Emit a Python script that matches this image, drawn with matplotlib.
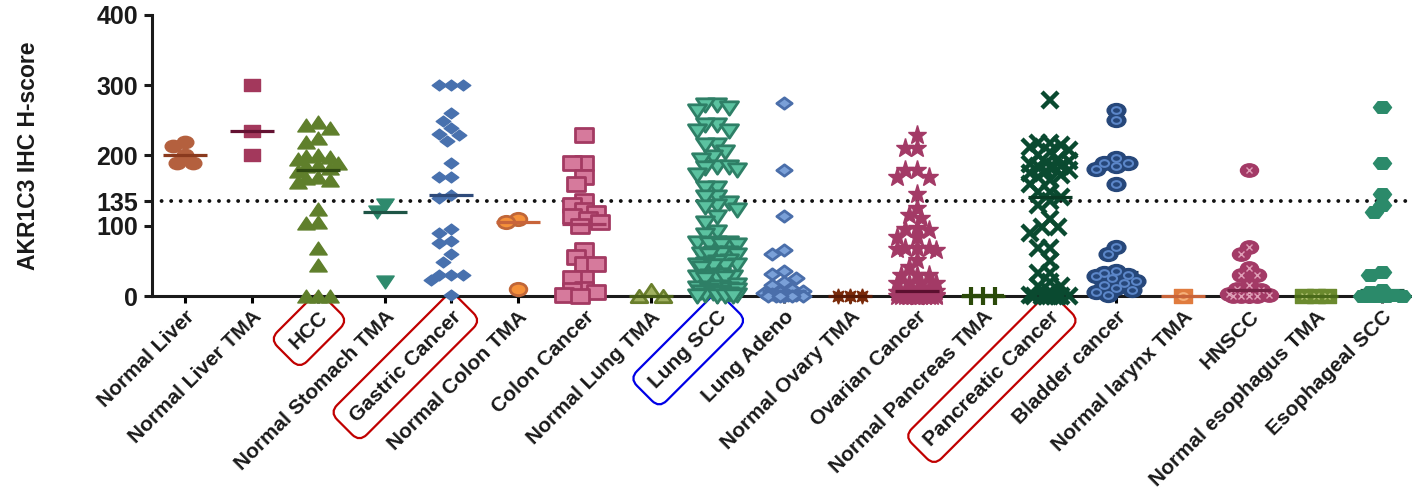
import numpy as np
import matplotlib
matplotlib.use("Agg")
import matplotlib.pyplot as plt
from matplotlib.markers import MarkerStyle
from matplotlib.transforms import Affine2D

plt.rcParams['font.family'] = ['Liberation Sans', 'DejaVu Sans']
plt.rcParams['font.weight'] = 'bold'

categories = ["Normal Liver", "Normal Liver TMA", "HCC", "Normal Stomach TMA", "Gastric Cancer",
              "Normal Colon TMA", "Colon Cancer", "Normal Lung TMA", "Lung SCC", "Lung Adeno",
              "Normal Ovary TMA", "Ovarian Cancer", "Normal Pancreas TMA", "Pancreatic Cancer",
              "Bladder cancer", "Normal larynx TMA", "HNSCC", "Normal esophagus TMA", "Esophageal SCC"]

# H-scores
normal_liver = [219, 214, 200, 190, 190]
normal_liver_tma = [300, 235, 200]
hcc = [248, 243, 239, 225, 219, 200, 199, 198, 195, 190, 187, 185, 182, 178, 170, 168, 165, 162,
       124, 105, 104, 68, 44, 0, 0, 0]
normal_stomach_tma = [130, 120, 20]
gastric = [300, 300, 300, 260, 249, 239, 231, 229, 220, 189, 170, 170, 144, 140, 95, 89, 78, 75,
           60, 49, 30, 30, 30, 23, 2]
normal_colon_tma = [110, 105, 10]
colon = [229, 190, 190, 170, 160, 135, 130, 122, 118, 114, 110, 105, 100, 65, 55, 45, 45, 26, 26,
         10, 8, 5, 2, 0]
normal_lung_tma = [8, 0, 0]
lung_scc = [272, 272, 267, 263, 243, 243, 235, 235, 215, 215, 205, 198, 194, 184, 184, 182, 180, 172,
            154, 154, 141, 141, 132, 128, 126, 122, 112, 104, 91, 87, 75, 75, 75, 74, 73, 72,
            61, 61, 60, 60, 59, 58, 50, 48, 45, 44, 44, 43, 42, 40, 30, 28, 27, 27, 26, 25, 24,
            15, 13, 12, 10, 9, 8, 6, 5, 4, 3, 2, 1, 0, 0, 0, 0]
lung_adeno = [275, 179, 114, 65, 60, 35, 32, 26, 20, 15, 10, 7, 5, 4, 3, 2, 1, 0, 0, 0, 0, 0, 0]
normal_ovary_tma = [0, 0, 0]
ovarian = [229, 211, 211, 179, 179, 170, 170, 145, 125, 115, 111, 97, 95, 94, 84, 84, 68, 68, 68, 67,
           66, 51, 41, 30, 30, 30, 18, 18, 18, 18, 12, 10, 8, 7, 6, 5, 5, 4, 3, 3, 2, 2, 1, 1,
           0, 0, 0, 0, 0, 0, 0, 0, 0, 0, 0, 0, 0, 0, 0, 0, 0, 0, 0, 0, 0, 0]
normal_pancreas_tma = [0, 0, 0]
pancreatic = [279, 218, 218, 215, 212, 208, 205, 200, 195, 192, 190, 188, 185, 185, 183, 180, 178,
              175, 172, 170, 165, 160, 148, 148, 141, 135, 130, 109, 98, 98, 89, 69, 69, 50, 33, 33,
              20, 14, 14, 5, 2, 0, 0, 0, 0, 0, 0, 0, 0]
bladder = [265, 250, 196, 190, 190, 185, 181, 160, 70, 60, 35, 33, 30, 28, 26, 22, 19, 15, 12, 8, 5, 2]
normal_larynx_tma = [0]
hnscc = [179, 70, 60, 40, 30, 30, 16, 10, 8, 5, 3, 2, 0, 0, 0, 0]
normal_esophagus_tma = [0, 0, 0]
esophageal_scc = [269, 190, 145, 130, 120, 34, 30, 8, 5, 2, 0, 0, 0, 0, 0]

groups = [normal_liver, normal_liver_tma, hcc, normal_stomach_tma, gastric, normal_colon_tma, colon,
          normal_lung_tma, lung_scc, lung_adeno, normal_ovary_tma, ovarian, normal_pancreas_tma,
          pancreatic, bladder, normal_larynx_tma, hnscc, normal_esophagus_tma, esophageal_scc]


def wide(m, sx=1.35):
    ms = MarkerStyle(m)
    p = ms.get_path().transformed(ms.get_transform())
    return MarkerStyle(p.transformed(Affine2D().scale(sx, 1)))


# marker, size, face, edge, edge width, median colour, inner decoration
styles = [
    (wide('o'), 12, '#b4603e', '#b4603e', 1, '#8a3a1e', None),
    (wide('s'), 12, '#a3385c', '#a3385c', 1, '#641232', None),
    (wide('^'), 12.5, '#5f7f2b', '#5f7f2b', 1, '#2f4a12', None),
    (wide('v'), 12.5, '#2e8a6d', '#2e8a6d', 1, '#1e5546', None),
    (wide('D'), 10.5, '#4871ae', '#4871ae', 1, '#2e4a7a', None),
    (wide('o'), 12, '#f5913a', '#c06638', 2, '#c8643a', None),
    (wide('s'), 13, '#d67a9c', '#a33a62', 2, '#a33a62', None),
    (wide('^'), 12, '#a0b060', '#6a7f2c', 2, '#4a5f1a', None),
    (wide('v'), 13, '#5bc2a0', '#2e7f66', 2, '#1e5546', None),
    (wide('D'), 11, '#7aa0d8', '#4a6eaa', 2, '#4a6eaa', None),
    ((8, 1, 0), 11, '#7a2a0a', '#7a2a0a', 1, '#5a1a05', None),
    ('*', 14, '#a33a66', '#a33a66', 1, '#5c1030', None),
    ('+', 13, '#2b4a0a', '#2b4a0a', 3, '#2b4a0a', None),
    ('x', 11.5, '#0a4a30', '#0a4a30', 3.2, '#0a3a25', None),
    (wide('o'), 13.5, '#26477a', '#26477a', 1, '#1a3358', (wide('o'), 6.5, '#5b86c8')),
    (wide('s'), 13, '#e07b3e', '#e07b3e', 1, '#c8643a', (wide('o'), 6.5, '#f5b07a')),
    (wide('o'), 13, '#a33a66', '#a33a66', 1, '#7a2448', ('x', 5, '#e0a0b8')),
    (wide('s'), 13, '#6b8a2e', '#6b8a2e', 1, '#4a6a1a', ('x', 5, '#b8c878')),
    (wide('H'), 13, '#2b8a6a', '#2b8a6a', 1, '#1e6048', None),
]
median_behind = {8, 14, 18}


def swarm(vals, w=0.17, h=13.0, maxw=0.3):
    step = w * 0.35
    cands = [0.0]
    for k in range(1, int(maxw / step) + 1):
        cands += [-k * step, k * step]
    placed = []
    offs = []
    for v in vals:
        best, bestd = 0.0, -1
        for c in cands:
            d = min([((c - o) / w) ** 2 + ((v - pv) / h) ** 2 for o, pv in placed], default=99)
            if d >= 1:
                best = c
                break
            if d > bestd:
                bestd, best = d, c
        placed.append((best, v))
        offs.append(best)
    return np.array(offs)


fig = plt.figure(figsize=(14.12, 4.9), dpi=100)
ax = fig.add_axes([152 / 1412, 1 - 296 / 490, 1 - 152 / 1412, (296 - 15) / 490])

ax.axhline(135, color='#111111', lw=2.8, linestyle=(0, (0.01, 2.45)), dash_capstyle='round', zorder=1)

for i, (vals, st) in enumerate(zip(groups, styles)):
    m, size, fc, ec, mew, mc, inner = st
    x = i + swarm(vals)
    ax.plot(x, vals, ls='none', marker=m, ms=size, mfc=fc, mec=ec, mew=mew, clip_on=False, zorder=3)
    if inner is not None:
        im, isz, icol = inner
        if im == 'x':
            ax.plot(x, vals, ls='none', marker=im, ms=isz, mec=icol, mew=1, clip_on=False, zorder=4)
        else:
            ax.plot(x, vals, ls='none', marker=im, ms=isz, mfc='none', mec=icol, mew=1.5,
                    clip_on=False, zorder=4)
    z = 2 if i in median_behind else 5
    ax.hlines(np.median(vals), i - 0.33, i + 0.33, color=mc, lw=2.3, zorder=z, clip_on=False)

ax.set_xlim(-0.5, 18.45)
ax.set_ylim(0, 400)
ax.set_yticks([0, 100, 135, 200, 300, 400])
ax.set_xticks(range(len(categories)))
ax.set_xticklabels(categories, rotation=45, ha='right', rotation_mode='anchor', fontsize=15,
                   color='#1a1a1a')
ax.tick_params(axis='y', labelsize=18, width=2.2, length=6, pad=4, colors='#1a1a1a')
ax.tick_params(axis='x', width=2.2, length=5, pad=3)
ax.set_ylabel("AKR1C3 IHC H-score", fontsize=16.5, fontweight='bold', color='#1a1a1a')
ax.yaxis.set_label_coords(-(152 - 40) / 1260, 0.5)

for s in ['top', 'right']:
    ax.spines[s].set_visible(False)
for s in ['left', 'bottom']:
    ax.spines[s].set_linewidth(2.2)
    ax.spines[s].set_color('#1a1a1a')

boxes = {2: '#c00000', 4: '#c00000', 8: '#0000e6', 13: '#c00000'}
for i, lab in enumerate(ax.get_xticklabels()):
    if i in boxes:
        lab.set_bbox(dict(boxstyle='round,pad=0.55,rounding_size=0.5', fc='none', ec=boxes[i], lw=1.6))

fig.savefig("out.png", dpi=100)
